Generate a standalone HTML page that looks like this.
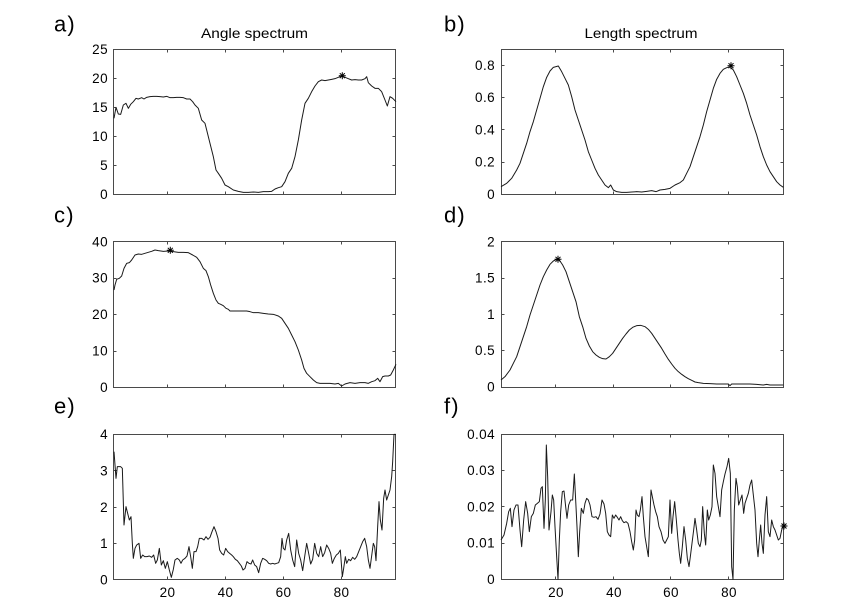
<!DOCTYPE html>
<html>
<head>
<meta charset="utf-8">
<style>
  html, body { margin: 0; padding: 0; background: #fff; }
  svg { display: block; }
  text { font-family: "Liberation Sans", Arial, sans-serif; fill: #000; }
  .tk { font-size: 13.5px; letter-spacing: 0.4px; }
  .lab { font-size: 22px; letter-spacing: 1.2px; }
  .ttl { font-size: 14px; }
  .box { fill: none; stroke: #4a4a4a; stroke-width: 1; }
  .tick { fill: none; stroke: #4a4a4a; stroke-width: 1; }
  .crv { fill: none; stroke: #1a1a1a; stroke-width: 1; vector-effect: non-scaling-stroke; stroke-linejoin: round; }
  .star { fill: none; stroke: #000; stroke-width: 1; }
</style>
</head>
<body>
<svg width="865" height="614" viewBox="0 0 865 614" xmlns="http://www.w3.org/2000/svg">
<rect x="0" y="0" width="865" height="614" fill="#fff"/>

<!-- panel letters -->
<text class="lab" x="54" y="31.5">a)</text>
<text class="lab" x="444" y="31.5">b)</text>
<text class="lab" x="54" y="222.5">c)</text>
<text class="lab" x="444" y="222.5">d)</text>
<text class="lab" x="54" y="413.5">e)</text>
<text class="lab" x="444" y="413.5">f)</text>

<!-- titles -->
<text class="ttl" x="201" y="38" textLength="107" lengthAdjust="spacingAndGlyphs">Angle spectrum</text>
<text class="ttl" x="584.5" y="38" textLength="113" lengthAdjust="spacingAndGlyphs">Length spectrum</text>

<!-- boxes -->
<rect class="box" x="113.5" y="49.5" width="282" height="145"/>
<rect class="box" x="501.5" y="49.5" width="282" height="145"/>
<rect class="box" x="113.5" y="241.5" width="282" height="146"/>
<rect class="box" x="501.5" y="241.5" width="282" height="146"/>
<rect class="box" x="113.5" y="434.5" width="282" height="145"/>
<rect class="box" x="501.5" y="434.5" width="282" height="145"/>

<!-- ticks -->
<path class="tick" d="
M167.5,194.5v-3 M225.5,194.5v-3 M283.5,194.5v-3 M341.5,194.5v-3
M167.5,49.5v3 M225.5,49.5v3 M283.5,49.5v3 M341.5,49.5v3
M113.5,165.5h3 M113.5,136.5h3 M113.5,107.5h3 M113.5,78.5h3
M395.5,165.5h-3 M395.5,136.5h-3 M395.5,107.5h-3 M395.5,78.5h-3
M555.5,194.5v-3 M613.5,194.5v-3 M670.5,194.5v-3 M728.5,194.5v-3
M555.5,49.5v3 M613.5,49.5v3 M670.5,49.5v3 M728.5,49.5v3
M501.5,162.5h3 M501.5,129.5h3 M501.5,97.5h3 M501.5,65.5h3
M783.5,162.5h-3 M783.5,129.5h-3 M783.5,97.5h-3 M783.5,65.5h-3
M167.5,387.5v-3 M225.5,387.5v-3 M283.5,387.5v-3 M341.5,387.5v-3
M167.5,241.5v3 M225.5,241.5v3 M283.5,241.5v3 M341.5,241.5v3
M113.5,351.5h3 M113.5,314.5h3 M113.5,278.5h3
M395.5,351.5h-3 M395.5,314.5h-3 M395.5,278.5h-3
M555.5,387.5v-3 M613.5,387.5v-3 M670.5,387.5v-3 M728.5,387.5v-3
M555.5,241.5v3 M613.5,241.5v3 M670.5,241.5v3 M728.5,241.5v3
M501.5,350.5h3 M501.5,314.5h3 M501.5,278.5h3
M783.5,350.5h-3 M783.5,314.5h-3 M783.5,278.5h-3
M167.5,579.5v-3 M225.5,579.5v-3 M283.5,579.5v-3 M341.5,579.5v-3
M167.5,434.5v3 M225.5,434.5v3 M283.5,434.5v3 M341.5,434.5v3
M113.5,543.5h3 M113.5,507.5h3 M113.5,470.5h3
M395.5,543.5h-3 M395.5,507.5h-3 M395.5,470.5h-3
M555.5,579.5v-3 M613.5,579.5v-3 M670.5,579.5v-3 M728.5,579.5v-3
M555.5,434.5v3 M613.5,434.5v3 M670.5,434.5v3 M728.5,434.5v3
M501.5,543.5h3 M501.5,506.5h3 M501.5,470.5h3
M783.5,543.5h-3 M783.5,506.5h-3 M783.5,470.5h-3
"/>

<!-- y tick labels -->
<g class="tk" text-anchor="end">
  <text x="108" y="54">25</text>
  <text x="108" y="83">20</text>
  <text x="108" y="112">15</text>
  <text x="108" y="141">10</text>
  <text x="108" y="170">5</text>
  <text x="108" y="199">0</text>

  <text x="495" y="70">0.8</text>
  <text x="495" y="102">0.6</text>
  <text x="495" y="134.5">0.4</text>
  <text x="495" y="166.5">0.2</text>
  <text x="495" y="199">0</text>

  <text x="108" y="246.5">40</text>
  <text x="108" y="282.5">30</text>
  <text x="108" y="319">20</text>
  <text x="108" y="355.5">10</text>
  <text x="108" y="392">0</text>

  <text x="495" y="246.5">2</text>
  <text x="495" y="282.5">1.5</text>
  <text x="495" y="319">1</text>
  <text x="495" y="355">0.5</text>
  <text x="495" y="391.5">0</text>

  <text x="108" y="439">4</text>
  <text x="108" y="475.5">3</text>
  <text x="108" y="512">2</text>
  <text x="108" y="548">1</text>
  <text x="108" y="584.5">0</text>

  <text x="495" y="439">0.04</text>
  <text x="495" y="475">0.03</text>
  <text x="495" y="511.5">0.02</text>
  <text x="495" y="547.5">0.01</text>
  <text x="495" y="584">0</text>
</g>

<!-- x tick labels -->
<g class="tk" text-anchor="middle">
  <text x="167.5" y="597">20</text>
  <text x="225.5" y="597">40</text>
  <text x="283.5" y="597">60</text>
  <text x="341.5" y="597">80</text>
  <text x="556" y="597">20</text>
  <text x="614" y="597">40</text>
  <text x="671" y="597">60</text>
  <text x="729" y="597">80</text>
</g>

<!-- panel a curve -->
<g transform="translate(0,0) scale(0.333333)">
<polyline class="crv" points="342,355 348,322 355,342 362,343 370,315 378,310 385,325 392,313 400,305 408,295 415,297 425,293 432,297 440,292 450,290 460,289 470,289 480,290 490,291 500,289 510,293 520,293 530,292 540,292 550,293 560,297 570,297 578,305 585,315 595,325 605,360 615,370 620,390 630,430 640,470 648,510 655,520 665,535 675,555 685,560 700,570 715,574 730,577 745,577 760,576 775,577 790,575 805,575 815,574 825,567 835,563 845,560 855,545 865,520 875,505 885,470 895,420 905,360 915,310 925,295 935,275 945,258 955,245 965,240 975,242 985,240 995,238 1005,236 1015,232 1025,228 1035,232 1045,236 1055,240 1065,239 1075,240 1085,240 1095,236 1100,230 1105,248 1115,258 1125,265 1135,265 1145,275 1155,300 1162,318 1170,290 1178,295 1188,305"/>
</g>

<!-- panel b curve -->
<g transform="translate(430,0) scale(0.333333)">
<polyline class="crv" points="213,560 230,550 245,535 260,510 270,490 280,460 290,430 300,395 310,365 320,330 330,295 340,260 350,232 360,213 370,202 378,200 385,198 395,215 405,235 415,255 425,290 435,330 445,360 455,390 465,420 475,455 485,480 495,505 505,525 515,540 525,555 535,563 542,555 550,570 560,575 575,577 590,577 605,576 620,575 635,576 650,574 665,572 678,575 690,570 705,568 720,565 735,555 750,548 760,540 770,520 780,500 790,470 800,440 810,410 820,375 830,335 840,300 850,265 860,238 870,220 880,208 890,203 900,200 910,210 920,230 930,255 940,280 950,310 960,345 970,375 980,405 990,440 1000,470 1010,495 1020,515 1030,530 1040,545 1050,555 1060,562"/>
</g>

<!-- panel c curve -->
<g transform="translate(0,210) scale(0.333333)">
<polyline class="crv" points="342,240 345,225 350,208 358,205 365,198 372,175 380,160 388,158 395,150 405,135 415,132 425,133 435,130 445,127 455,124 465,120 475,122 490,124 505,123 520,125 535,127 550,127 565,128 578,135 590,142 600,155 610,175 618,182 625,200 632,225 640,250 648,270 655,280 662,283 670,287 678,295 685,298 690,303 700,303 720,303 740,303 750,305 760,308 775,308 790,310 805,312 820,313 835,318 845,325 855,340 865,355 875,375 885,395 895,420 905,450 912,475 920,490 930,500 940,510 950,518 960,520 975,520 990,520 1005,522 1015,520 1025,528 1035,522 1050,518 1065,520 1080,518 1095,518 1105,520 1115,515 1125,512 1133,505 1140,515 1148,500 1155,498 1165,498 1172,495 1180,480 1188,463"/>
</g>

<!-- panel d curve -->
<g transform="translate(430,210) scale(0.333333)">
<polyline class="crv" points="213,510 225,500 240,480 250,460 260,440 270,410 280,380 290,350 300,315 310,285 320,255 330,225 340,200 350,180 360,163 370,153 380,148 388,150 398,165 408,185 418,215 428,245 438,275 448,320 458,350 468,385 478,408 488,425 498,435 508,442 518,446 528,447 538,440 548,430 558,415 568,400 578,385 588,372 598,360 608,352 620,347 632,346 645,350 655,358 665,370 675,385 685,400 695,415 705,432 715,448 725,462 735,475 745,485 755,493 765,500 775,506 785,511 795,516 805,518 820,520 840,521 860,522 880,522 895,522 900,527 905,522 920,522 940,522 960,522 980,523 1000,525 1010,523 1020,525 1040,525 1060,525"/>
</g>

<!-- panel e curve -->
<g transform="translate(0,400) scale(0.333333)">
<polyline class="crv" points="342,155 348,235 352,200 358,200 362,200 367,205 372,375 378,320 383,340 388,360 393,350 397,430 400,475 405,445 410,435 417,430 422,475 428,465 434,470 441,470 448,468 455,472 461,465 467,490 472,480 478,445 484,495 490,482 496,505 502,485 508,510 514,532 520,508 525,480 532,475 538,480 543,490 548,480 555,475 561,468 567,440 572,470 577,505 582,455 588,455 593,440 598,415 605,415 612,420 618,410 624,418 630,412 636,395 642,380 648,395 654,415 659,450 665,460 671,465 677,445 683,455 689,460 695,465 700,470 706,478 712,482 718,490 724,498 729,510 735,505 741,485 747,490 753,492 758,480 764,495 770,500 776,518 782,490 788,475 794,478 800,482 806,490 812,492 818,490 824,492 830,490 836,488 842,470 846,415 850,445 855,450 860,420 866,400 872,450 878,480 884,500 890,420 896,460 902,480 908,512 914,470 920,430 926,460 932,492 938,478 944,430 950,460 956,470 962,440 968,470 974,458 980,435 986,445 992,460 997,490 1003,475 1009,465 1015,460 1021,450 1027,530 1031,505 1036,470 1040,490 1046,478 1052,482 1058,472 1064,478 1070,470 1076,455 1082,440 1088,425 1094,415 1100,440 1105,480 1110,505 1116,460 1120,430 1124,440 1128,482 1133,380 1137,305 1141,360 1146,390 1151,295 1155,270 1160,300 1165,285 1170,270 1175,230 1178,185 1182,103 1188,103"/>
</g>

<!-- panel f curve -->
<g transform="translate(430,400) scale(0.333333)">
<polyline class="crv" points="213,420 222,405 230,370 236,335 241,325 246,380 252,330 258,315 264,315 270,390 275,440 281,360 287,305 293,340 298,395 304,350 310,340 316,315 322,310 328,305 333,265 337,260 342,385 346,300 349,135 353,230 357,390 363,335 367,285 371,300 375,380 380,470 384,538 388,420 392,335 397,275 402,273 407,320 411,355 416,315 422,300 428,300 433,222 437,300 441,380 445,470 449,395 454,325 460,340 465,310 470,295 475,300 480,315 486,350 492,352 498,350 504,358 510,342 516,300 522,312 527,340 532,395 537,405 542,410 547,345 552,355 557,345 562,352 567,360 572,350 577,362 582,368 588,365 594,370 600,395 605,425 610,450 614,420 618,330 622,345 627,350 631,330 636,290 640,350 645,410 650,440 655,470 659,370 663,270 667,290 672,315 677,335 682,350 687,380 693,395 699,420 705,430 710,420 715,410 720,300 725,400 729,350 734,305 739,360 744,420 748,460 752,490 757,440 762,380 767,420 772,475 777,500 781,470 786,430 791,390 795,355 800,390 805,430 810,440 814,420 818,320 823,400 827,435 832,330 836,360 841,345 846,320 850,195 855,220 860,290 865,320 870,350 875,270 880,245 885,222 891,200 896,175 901,220 905,500 909,538 913,330 918,235 922,260 926,315 931,300 936,285 941,340 945,310 950,295 955,280 960,255 965,240 970,285 975,330 980,430 984,470 988,420 992,375 996,430 1000,460 1005,345 1010,290 1015,395 1020,410 1025,360 1030,380 1035,390 1040,405 1045,420 1050,415 1055,390 1060,375"/>
</g>

<!-- star markers -->
<path class="star" d="
M338.8,75.7h7 M342.3,72.2v7 M339.8,73.2l5,5 M339.8,78.2l5,-5
M727.5,65.7h7 M731,62.2v7 M728.5,63.2l5,5 M728.5,68.2l5,-5
M166.8,250.3h7 M170.3,246.8v7 M167.8,247.8l5,5 M167.8,252.8l5,-5
M554.5,259.3h7 M558,255.8v7 M555.5,256.8l5,5 M555.5,261.8l5,-5
M780.5,526h7 M784,522.5v7 M781.5,523.5l5,5 M781.5,528.5l5,-5
"/>
</svg>
</body>
</html>
